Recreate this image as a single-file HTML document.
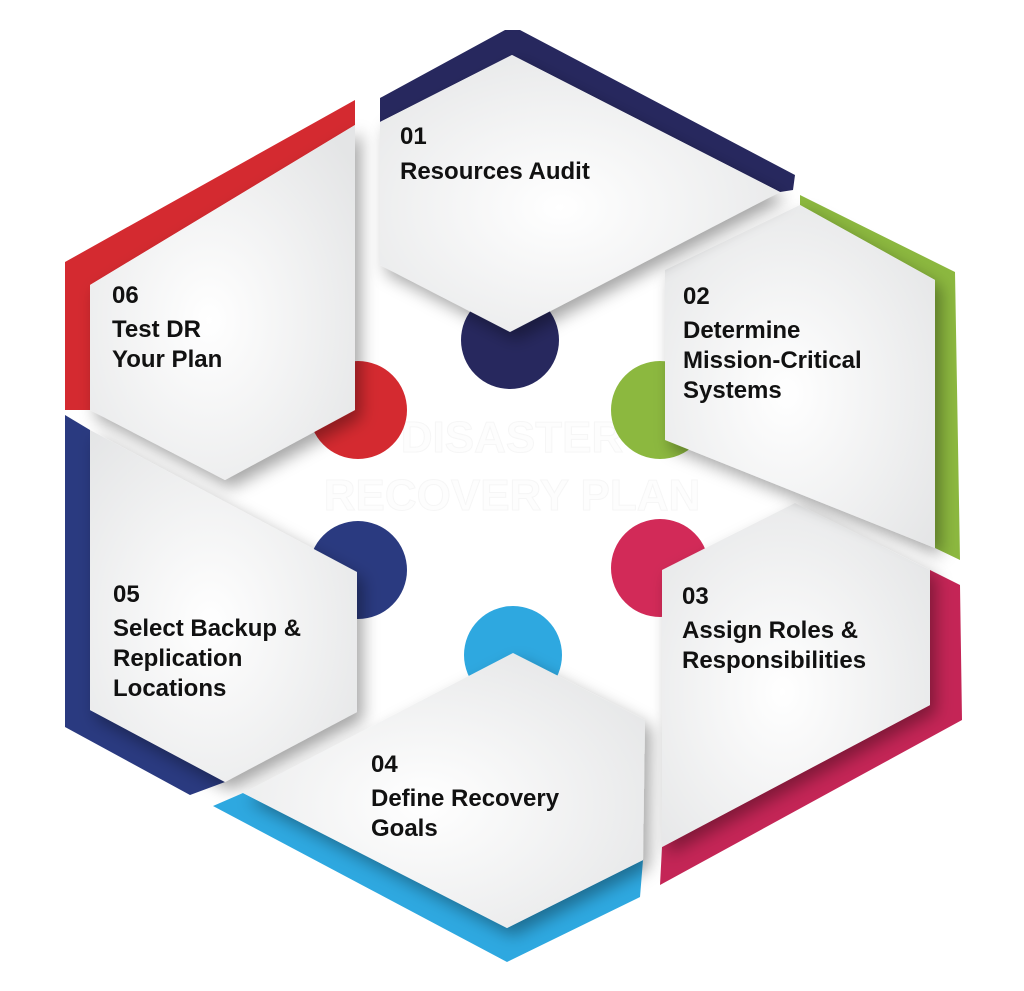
<!DOCTYPE html>
<html><head><meta charset="utf-8"><style>
html,body{margin:0;padding:0;background:#fff;}
svg{display:block;}
text{font-family:"Liberation Sans",sans-serif;font-weight:bold;fill:#111;font-size:24px;}
</style></head><body>
<svg width="1024" height="991" viewBox="0 0 1024 991" xmlns="http://www.w3.org/2000/svg">
<defs>
<filter id="sh" x="-20%" y="-20%" width="140%" height="140%">
<feDropShadow dx="6" dy="8" stdDeviation="8" flood-color="#000" flood-opacity="0.35"/>
</filter>
<radialGradient id="wg" cx="45%" cy="55%" r="70%">
<stop offset="0" stop-color="#ffffff"/><stop offset="1" stop-color="#e4e5e6"/>
</radialGradient>
</defs>
<text x="512" y="452" text-anchor="middle" style="font-size:44px;fill:#fdfdfd;stroke:#f6f6f6;stroke-width:1">DISASTER</text>
<text x="512" y="510" text-anchor="middle" style="font-size:44px;fill:#fdfdfd;stroke:#f6f6f6;stroke-width:1">RECOVERY PLAN</text>

<circle cx="510" cy="340" r="49" fill="#27285e"/>
<circle cx="660" cy="410" r="49" fill="#8cb83f"/>
<circle cx="660" cy="568" r="49" fill="#d22a58"/>
<circle cx="513" cy="655" r="49" fill="#2ea8e0"/>
<circle cx="358" cy="570" r="49" fill="#2a3a80"/>
<circle cx="358" cy="410" r="49" fill="#d42a30"/>

<polygon points="65,262 355,100 355,125 90,285 90,410 65,410" fill="#d42a30"/>
<polygon points="90,285 355,125 355,410 225,480 90,410" fill="url(#wg)" filter="url(#sh)"/>
<polygon points="65,415 90,430 90,710 225,782 190,795 65,727" fill="#2a3a80"/>
<polygon points="90,430 357,572 357,712 225,782 90,710" fill="url(#wg)" filter="url(#sh)"/>
<polygon points="213,806 243,793 507,928 643,860 640,897 507,962" fill="#2ea8e0"/>
<polygon points="243,793 513,653 645,720 643,860 507,928" fill="url(#wg)" filter="url(#sh)"/>
<polygon points="930,570 960,585 962,720 660,885 662,847 930,705" fill="#c42556"/>
<polygon points="662,570 795,503 930,570 930,705 662,847" fill="url(#wg)" filter="url(#sh)"/>
<polygon points="800,195 955,272 960,560 935,548 935,280 800,205" fill="#8cb83f"/>
<polygon points="665,270 800,205 935,280 935,548 665,440" fill="url(#wg)" filter="url(#sh)"/>
<polygon points="380,98 505,30 520,30 795,175 793,190 780,192 512,55 380,122" fill="#27285e"/>
<polygon points="380,122 512,55 780,192 510,332 380,265" fill="url(#wg)" filter="url(#sh)"/>

<text x="400" y="144">01</text>
<text x="400" y="179">Resources Audit</text>
<text x="683" y="304">02</text>
<text x="683" y="338">Determine</text>
<text x="683" y="368">Mission-Critical</text>
<text x="683" y="398">Systems</text>
<text x="682" y="604">03</text>
<text x="682" y="638">Assign Roles &amp;</text>
<text x="682" y="668">Responsibilities</text>
<text x="371" y="772">04</text>
<text x="371" y="806">Define Recovery</text>
<text x="371" y="836">Goals</text>
<text x="113" y="602">05</text>
<text x="113" y="636">Select Backup &amp;</text>
<text x="113" y="666">Replication</text>
<text x="113" y="696">Locations</text>
<text x="112" y="303">06</text>
<text x="112" y="337">Test DR</text>
<text x="112" y="367">Your Plan</text>
</svg>
</body></html>
